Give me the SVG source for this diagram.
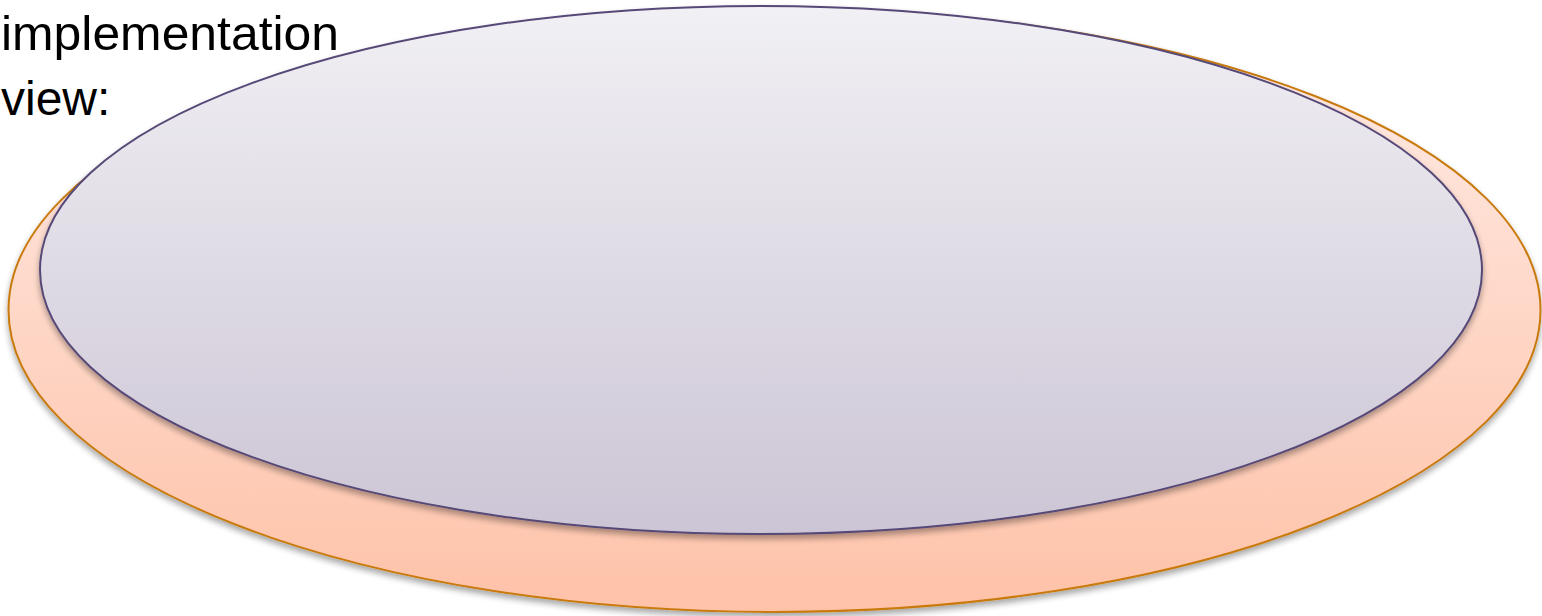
<svg xmlns="http://www.w3.org/2000/svg" width="1542" height="616" viewBox="0 0 1542 616">
<style>
.lbl{font-family:"Liberation Sans",Arial,sans-serif;font-size:48px;fill:#000}
</style>
<defs>
<linearGradient id="gOrange" x1="0" y1="0" x2="0" y2="1">
<stop offset="0" stop-color="#FFEDE8"/>
<stop offset="1" stop-color="#FEC2A8"/>
</linearGradient>
<linearGradient id="gPurple" x1="0" y1="0" x2="0" y2="1">
<stop offset="0" stop-color="#F1F0F4"/>
<stop offset="1" stop-color="#CCC5D5"/>
</linearGradient>
<filter id="shadow" x="-5%" y="-5%" width="110%" height="115%">
<feGaussianBlur in="SourceAlpha" stdDeviation="3"/>
<feOffset dx="0" dy="4" result="b"/>
<feComponentTransfer><feFuncA type="linear" slope="0.35"/></feComponentTransfer>
<feMerge><feMergeNode/><feMergeNode in="SourceGraphic"/></feMerge>
</filter>
</defs>
<g id="outer">
<ellipse cx="774.5" cy="310" rx="766" ry="302" fill="url(#gOrange)" stroke="#C97A10" stroke-width="2" filter="url(#shadow)"/>
</g>
<g id="inner">
<ellipse cx="761" cy="270" rx="721" ry="264" fill="url(#gPurple)" stroke="#574977" stroke-width="2" filter="url(#shadow)"/>
</g>
<g id="label">
<text class="lbl" x="1" y="50" textLength="338" lengthAdjust="spacingAndGlyphs">implementation</text>
<text class="lbl" x="1" y="115">view:</text>
</g>
<g id="connectors"/>
</svg>
